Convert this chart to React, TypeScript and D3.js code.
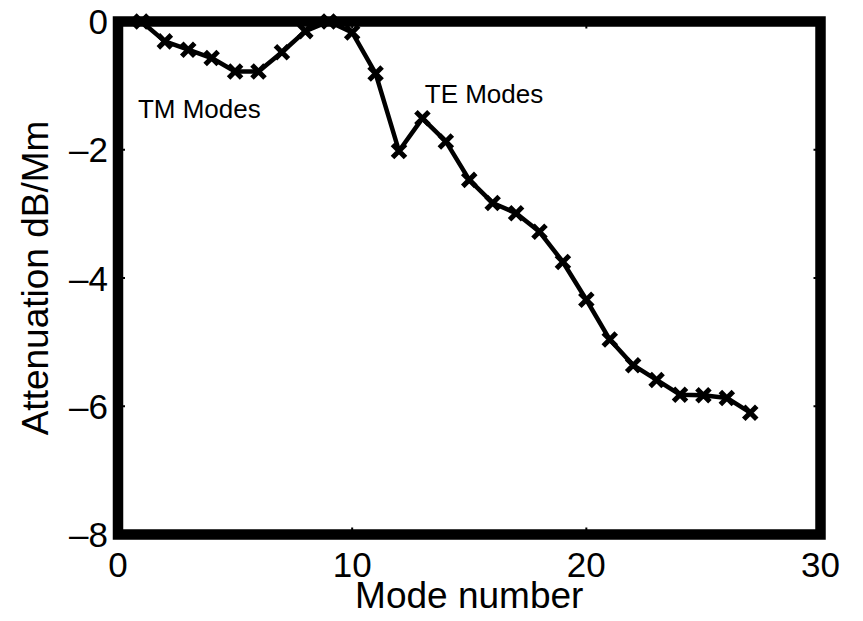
import React, { useEffect, useRef } from 'react';
import * as d3 from 'd3';

// mode numbers and their attenuation (dB/Mm)
const modes = [1, 2, 3, 4, 5, 6, 7, 8, 9, 10, 11, 12, 13, 14, 15, 16, 17, 18, 19, 20, 21, 22, 23, 24, 25, 26, 27];
const attenuation = [
  0, -0.31, -0.44, -0.57, -0.78, -0.78, -0.48, -0.15, 0, -0.17,
  -0.81, -2.02, -1.51, -1.87, -2.47, -2.83, -2.99, -3.28, -3.75, -4.34,
  -4.96, -5.36, -5.59, -5.82, -5.83, -5.87, -6.1,
];
const xTicks = [0, 10, 20, 30];
const yTicks = [0, -2, -4, -6, -8];
const notes = [
  { text: 'TM Modes', x: 0.85, y: -1.5 },
  { text: 'TE Modes', x: 13.1, y: -1.27 },
];

const width = 863;
const height = 621;

function AttenuationChart() {
  const ref = useRef<SVGSVGElement>(null);

  useEffect(() => {
    drawChart();
  }, []);

  function drawChart() {
    const svg = d3.select(ref.current);
    svg.selectAll('*').remove();

    const margin = { top: 21.5, right: 42.5, bottom: 86.5, left: 118 };
    const font = '"Liberation Sans", Arial, Helvetica, sans-serif';

    const x = d3.scaleLinear()
      .domain([0, 30])
      .range([margin.left, width - margin.right]);
    const y = d3.scaleLinear()
      .domain([-8, 0])
      .range([height - margin.bottom, margin.top]);

    const fmt = (d: number) => (d < 0 ? '\u2013' + Math.abs(d) : String(d));

    // inward ticks on all four sides
    const tickLen = 7;
    const ticks = svg.append('g').attr('stroke', '#000').attr('stroke-width', 2);
    xTicks.forEach(t => {
      ticks.append('line').attr('x1', x(t)).attr('x2', x(t))
        .attr('y1', y(-8)).attr('y2', y(-8) - tickLen);
      ticks.append('line').attr('x1', x(t)).attr('x2', x(t))
        .attr('y1', y(0)).attr('y2', y(0) + tickLen);
    });
    yTicks.forEach(t => {
      ticks.append('line').attr('x1', x(0)).attr('x2', x(0) + tickLen)
        .attr('y1', y(t)).attr('y2', y(t));
      ticks.append('line').attr('x1', x(30)).attr('x2', x(30) - tickLen)
        .attr('y1', y(t)).attr('y2', y(t));
    });

    // thick axis box
    svg.append('rect')
      .attr('x', x(0))
      .attr('y', y(0))
      .attr('width', x(30) - x(0))
      .attr('height', y(-8) - y(0))
      .attr('fill', 'none')
      .attr('stroke', '#000')
      .attr('stroke-width', 10.5);

    // tick labels
    svg.append('g')
      .attr('font-family', font)
      .attr('font-size', 35)
      .attr('text-anchor', 'middle')
      .selectAll('text')
      .data(xTicks)
      .join('text')
      .attr('x', d => x(d))
      .attr('y', 577)
      .text(d => fmt(d));

    svg.append('g')
      .attr('font-family', font)
      .attr('font-size', 35)
      .attr('text-anchor', 'end')
      .selectAll('text')
      .data(yTicks)
      .join('text')
      .attr('x', x(0) - 10)
      .attr('y', d => y(d) + 12.5)
      .text(d => fmt(d));

    // axis titles
    svg.append('text')
      .attr('font-family', font)
      .attr('font-size', 37)
      .attr('text-anchor', 'middle')
      .attr('x', x(15))
      .attr('y', 608)
      .text('Mode number');

    svg.append('text')
      .attr('font-family', font)
      .attr('font-size', 37)
      .attr('text-anchor', 'middle')
      .attr('transform', `translate(48,${y(-4)}) rotate(-90)`)
      .text('Attenuation dB/Mm');

    // data line
    const line = d3.line<number>()
      .x((d, i) => x(modes[i]))
      .y(d => y(d));

    svg.append('path')
      .attr('d', line(attenuation))
      .attr('fill', 'none')
      .attr('stroke', '#000')
      .attr('stroke-width', 4.5)
      .attr('stroke-linejoin', 'round');

    // x markers
    const m = 6.5;
    svg.append('g')
      .attr('stroke', '#000')
      .attr('stroke-width', 5)
      .selectAll('path')
      .data(attenuation)
      .join('path')
      .attr('d', (d, i) => {
        const cx = x(modes[i]);
        const cy = y(d);
        return `M${cx - m},${cy - m}L${cx + m},${cy + m}M${cx - m},${cy + m}L${cx + m},${cy - m}`;
      });

    // annotations
    svg.append('g')
      .attr('font-family', font)
      .attr('font-size', 26)
      .selectAll('text')
      .data(notes)
      .join('text')
      .attr('x', d => x(d.x))
      .attr('y', d => y(d.y))
      .text(d => d.text);
  }

  return (
    <svg
      ref={ref}
      width={width}
      height={height}
      style={{ position: 'absolute', left: 0, top: 0, background: '#fff' }}
    />
  );
}

export default function App() {
  return <AttenuationChart />;
}
